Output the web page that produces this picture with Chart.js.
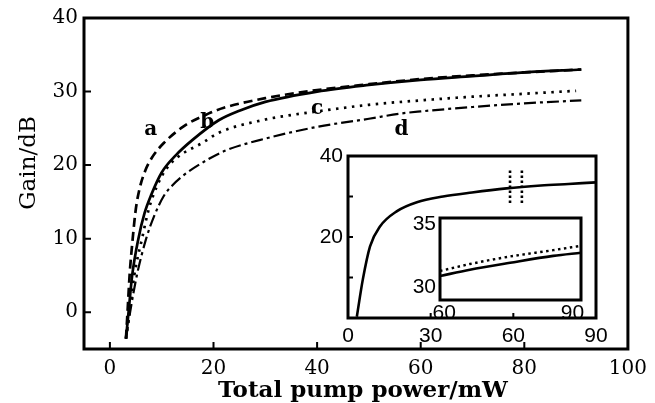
<!DOCTYPE html>
<html lang="en">
<head>
  <meta charset="UTF-8">
  <title>Gain vs total pump power</title>
  <script src="https://cdn.jsdelivr.net/npm/chart.js"></script>
  <style>
    html, body { margin: 0; padding: 0; background: #fff; }
    #wrap { position: relative; width: 655px; height: 403px; }
    #wrap canvas { position: absolute; left: 0; top: 0; }
  </style>
</head>
<body>
<div id="wrap">
  <canvas id="mainChart" width="655" height="403"></canvas>
  <canvas id="insetChart" width="655" height="403"></canvas>
  <canvas id="zoomChart" width="655" height="403"></canvas>
</div>

<script>
  // main plot: gain (dB) vs total pump power (mW), curves a-d
  const curveA = [[3.1,-3.6],[3.4,0],[3.8,5],[4.4,10],[5.0,14],[5.8,17],[6.8,19.2],[8.1,21],[10.4,23],[14.3,25.3],[19,27],[22,27.8],[30,29.1],[40,30.2],[50,31],[60,31.7],[70,32.2],[80,32.6],[91,33]];
  const curveB = [[3.1,-3.6],[3.6,0],[4.3,5],[5.5,10],[6.7,13.5],[8,16],[10,19],[12.8,21.4],[15.9,23.4],[21,26.1],[25,27.4],[30,28.6],[40,30],[50,30.9],[60,31.6],[70,32.1],[80,32.6],[91,33]];
  const curveC = [[3.1,-3.6],[3.8,0],[4.7,5],[6.2,10],[7.5,14],[9,17],[10.8,19.4],[13.3,21.2],[17.8,23],[21,24.4],[30,26.2],[34,26.7],[40,27.3],[50,28.2],[60,28.8],[70,29.3],[80,29.7],[90,30.1]];
  const curveD = [[3.1,-3.6],[3.9,0],[5.2,5],[7,10],[8.5,13],[10.4,15.8],[12,17.2],[14,18.5],[19,20.8],[22.4,22],[30,23.6],[40,25.2],[50,26.3],[56,27],[60,27.3],[70,27.9],[80,28.4],[91,28.8]];
  const curveNames = ['a', 'b', 'c', 'd'];
  const curveTagX = [7.9, 18.8, 40, 56.3];
  const curveTagY = [24.8, 25.7, 27.6, 24.8];
  const mainXTicks = [0, 20, 40, 60, 80, 100];
  const mainYTicks = [0, 10, 20, 30, 40];

  // first inset: full curve 0-90 mW, with two dotted markers near 60 mW
  const insetCurve = [[3.2,0.3],[5.4,9.6],[8,17.7],[11.6,22.6],[17.8,26.4],[25,28.6],[34.5,30],[45,31],[57.5,32],[70,32.7],[80,33.1],[90,33.5]];
  const insetMarkLeft = [[58.8,28.4],[58.8,37]];
  const insetMarkRight = [[63.1,28.4],[63.1,37]];
  const insetXTicks = [0, 30, 60, 90];
  const insetYTicks = [0, 10, 20, 30, 40];
  const insetYLabels = [20, 40];

  // second inset: zoom on 60-90 mW
  const zoomSolid = [[59,30.9],[66,31.4],[75.4,31.95],[85.5,32.5],[92,32.75]];
  const zoomDotted = [[59,31.3],[66,31.85],[75.4,32.45],[85.5,32.95],[92,33.3]];
  const zoomXTicks = [60, 90];
  const zoomYTicks = [30, 35];

  const toPts = arr => arr.map(p => ({x: p[0], y: p[1]}));

  // frame round the plot area, inward tick marks, free text
  const decorate = {
    id: 'decorate',
    afterDraw(chart, args, o) {
      const {ctx, chartArea: a} = chart;
      const xs = chart.scales.x, ys = chart.scales.y;
      ctx.save();
      ctx.strokeStyle = '#000';
      ctx.lineWidth = o.frame;
      ctx.strokeRect(a.left, a.top, a.right - a.left, a.bottom - a.top);
      ctx.lineWidth = 2;
      ctx.beginPath();
      (o.xMarks || []).forEach(v => {
        const p = xs.getPixelForValue(v);
        ctx.moveTo(p, a.bottom); ctx.lineTo(p, a.bottom - o.tick);
      });
      (o.yMarks || []).forEach(v => {
        const p = ys.getPixelForValue(v);
        ctx.moveTo(a.left, p); ctx.lineTo(a.left + o.tick, p);
      });
      ctx.stroke();
      ctx.fillStyle = '#000';
      ctx.textAlign = 'center';
      ctx.textBaseline = 'middle';
      (o.texts || []).forEach(t => {
        ctx.save();
        ctx.font = t.font;
        const px = t.data ? xs.getPixelForValue(t.x) : t.x;
        const py = t.data ? ys.getPixelForValue(t.y) : t.y;
        ctx.translate(px, py);
        if (t.rot) ctx.rotate(t.rot);
        ctx.fillText(t.text, 0, 0);
        ctx.restore();
      });
      ctx.restore();
    }
  };

  function axis(min, max, ticks, size, labelFont, pad, labels) {
    return {
      type: 'linear', min: min, max: max,
      afterBuildTicks: s => { s.ticks = ticks.map(v => ({value: v})); },
      afterFit: s => { if (s.isHorizontal()) s.height = size; else s.width = size; },
      grid: {display: false, drawTicks: false},
      border: {display: false},
      ticks: {
        color: '#000', font: labelFont, padding: pad,
        autoSkip: false, maxRotation: 0,
        callback: v => (!labels || labels.includes(v)) ? String(v) : ''
      }
    };
  }

  const serif = {family: 'DejaVu Serif', size: 20};
  const sans = {family: 'Liberation Sans', size: 21};

  const dashStyles = [[9, 5], [], [2.5, 5.5], [12, 4, 3, 4]];
  const mainSets = [curveA, curveB, curveC, curveD].map((c, i) => ({
    label: curveNames[i],
    data: toPts(c),
    borderColor: '#000',
    borderWidth: i === 3 ? 2.2 : 2.7,
    borderDash: dashStyles[i],
    pointRadius: 0,
    cubicInterpolationMode: 'monotone'
  }));

  const tags = curveNames.map((n, i) => ({
    text: n, x: curveTagX[i], y: curveTagY[i], data: true, font: 'bold 20px "DejaVu Serif"'
  }));

  new Chart(document.getElementById('mainChart'), {
    type: 'line',
    data: {datasets: mainSets},
    plugins: [decorate],
    options: {
      responsive: false, animation: false,
      layout: {padding: {left: 0, right: 27, top: 13, bottom: 0}},
      plugins: {
        legend: {display: false}, tooltip: {enabled: false},
        decorate: {
          frame: 3, tick: 7,
          xMarks: [0, 20, 40, 60, 80], yMarks: [0, 10, 20, 30],
          texts: tags.concat([
            {text: 'Gain/dB', x: 29, y: 163, rot: -Math.PI / 2, font: '23px "DejaVu Serif"'},
            {text: 'Total pump power/mW', x: 363, y: 391, font: 'bold 23px "DejaVu Serif"'}
          ])
        }
      },
      scales: {
        x: axis(-5, 100, mainXTicks, 54, serif, 8),
        y: axis(-5, 40, mainYTicks, 84, serif, 6)
      }
    }
  });

  new Chart(document.getElementById('insetChart'), {
    type: 'line',
    data: {
      datasets: [
        {data: toPts(insetCurve), borderColor: '#000', borderWidth: 2.6, pointRadius: 0, cubicInterpolationMode: 'monotone'},
        {data: toPts(insetMarkLeft), borderColor: '#000', borderWidth: 2.6, borderDash: [2.5, 2.5], pointRadius: 0},
        {data: toPts(insetMarkRight), borderColor: '#000', borderWidth: 2.6, borderDash: [2.5, 2.5], pointRadius: 0}
      ]
    },
    plugins: [decorate],
    options: {
      responsive: false, animation: false,
      layout: {padding: {left: 308, right: 59, top: 156, bottom: 55}},
      plugins: {
        legend: {display: false}, tooltip: {enabled: false},
        decorate: {frame: 3, tick: 5, xMarks: [30, 60], yMarks: [10, 20, 30]}
      },
      scales: {
        x: axis(0, 90, insetXTicks, 30, sans, 6),
        y: axis(0, 40, insetYTicks, 40, sans, 5, insetYLabels)
      }
    }
  });

  new Chart(document.getElementById('zoomChart'), {
    type: 'line',
    data: {
      datasets: [
        {data: toPts(zoomSolid), borderColor: '#000', borderWidth: 2.6, pointRadius: 0, cubicInterpolationMode: 'monotone'},
        {data: toPts(zoomDotted), borderColor: '#000', borderWidth: 2.4, borderDash: [2.5, 3.5], pointRadius: 0, cubicInterpolationMode: 'monotone'}
      ]
    },
    plugins: [decorate],
    options: {
      responsive: false, animation: false,
      layout: {padding: {left: 400, right: 74, top: 218, bottom: 73}},
      plugins: {
        legend: {display: false}, tooltip: {enabled: false},
        decorate: {frame: 3, tick: 0}
      },
      scales: {
        x: axis(59, 92, zoomXTicks, 30, sans, 1),
        y: axis(29, 35.5, zoomYTicks, 40, sans, 4)
      }
    }
  });
</script>
</body>
</html>
